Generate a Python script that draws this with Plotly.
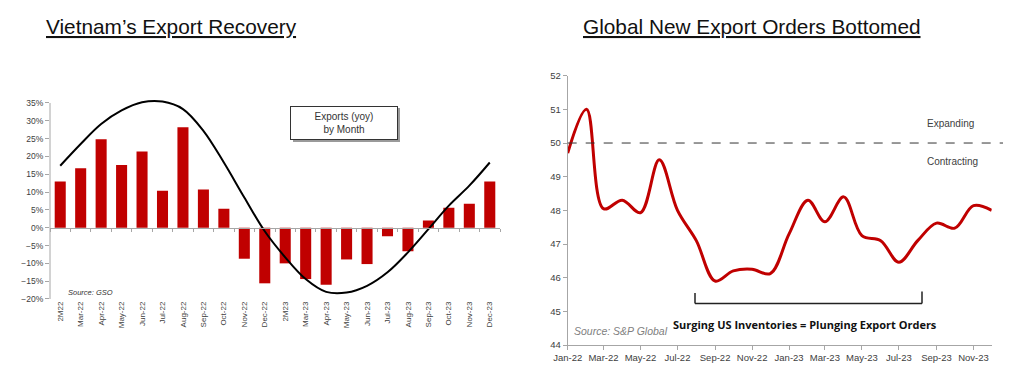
import plotly.graph_objects as go

# ---------------- Data ----------------
months_vn = ["2M22", "Mar-22", "Apr-22", "May-22", "Jun-22", "Jul-22", "Aug-22", "Sep-22",
             "Oct-22", "Nov-22", "Dec-22", "2M23", "Mar-23", "Apr-23", "May-23", "Jun-23",
             "Jul-23", "Aug-23", "Sep-23", "Oct-23", "Nov-23", "Dec-23"]
exports_yoy = [13.0, 16.7, 24.8, 17.6, 21.4, 10.4, 28.2, 10.7, 5.3, -8.7, -15.6, -10.0,
               -14.4, -16.0, -8.9, -10.2, -2.4, -6.6, 2.0, 5.6, 6.7, 13.0]
trend_curve = [17.4, 23.5, 29.1, 32.9, 35.2, 35.4, 33.3, 27.2, 18.3, 8.5, -1.0, -8.3,
               -14.4, -18.0, -18.2, -16.3, -12.5, -6.9, -0.4, 6.2, 11.8, 18.3]

dates_pmi = ["2022-01-01", "2022-02-01", "2022-03-01", "2022-04-01", "2022-05-01", "2022-06-01",
             "2022-07-01", "2022-08-01", "2022-09-01", "2022-10-01", "2022-11-01", "2022-12-01",
             "2023-01-01", "2023-02-01", "2023-03-01", "2023-04-01", "2023-05-01", "2023-06-01",
             "2023-07-01", "2023-08-01", "2023-09-01", "2023-10-01", "2023-11-01", "2023-12-01"]
new_export_orders = [49.7, 51.0, 48.05, 48.3, 47.93, 49.5, 48.0, 47.1, 45.9, 46.2, 46.25, 46.12,
                     47.3, 48.3, 47.66, 48.4, 47.25, 47.1, 46.46, 47.1, 47.62, 47.47, 48.14, 48.0]

W, H = 1024, 388
RED = "#C00000"
GRAY_AX = "#a6a6a6"
TXT = "#404040"

# Left panel geometry (pixels)
L_X0, L_X1 = 50, 500
L_Y35, L_Y1 = 103, 299     # pixel of 35% tick, bottom pixel (-20%)
L_YMIN, L_YTOP_TICK, L_YMAX = -20, 35, 36.6
# Right panel geometry
R_X0, R_X1 = 567.7, 991.7
R_Y0, R_Y1 = 75.7, 345
R_YMIN, R_YMAX = 44, 52

def px_x(p):
    return p / W

def px_y(p):
    return 1 - p / H

ppu = (L_Y1 - L_Y35) / (L_YTOP_TICK - L_YMIN)
l_top_px = L_Y35 - (L_YMAX - L_YTOP_TICK) * ppu
l_ydom = [px_y(L_Y1), px_y(l_top_px)]
zero_pos = l_ydom[0] + (0 - L_YMIN) / (L_YMAX - L_YMIN) * (l_ydom[1] - l_ydom[0])

fig = go.Figure()

fig.add_trace(go.Bar(x=months_vn, y=exports_yoy, marker=dict(color=RED, line=dict(width=0)),
                     xaxis="x", yaxis="y", showlegend=False, hoverinfo="x+y"))
fig.add_trace(go.Scatter(x=months_vn, y=trend_curve, mode="lines",
                         line=dict(color="black", width=2, shape="spline", smoothing=1.0),
                         xaxis="x", yaxis="y", showlegend=False))
# dummy trace to render the zero-line axis with ticks
fig.add_trace(go.Scatter(x=[None], y=[None], xaxis="x3", yaxis="y", showlegend=False))

fig.add_trace(go.Scatter(x=dates_pmi, y=new_export_orders, mode="lines",
                         line=dict(color=RED, width=3, shape="spline", smoothing=1.0),
                         xaxis="x2", yaxis="y2", showlegend=False))

fig.update_layout(
    template="none",
    width=W, height=H,
    margin=dict(l=0, r=0, t=0, b=0, pad=0, autoexpand=False),
    paper_bgcolor="white", plot_bgcolor="white",
    font=dict(family="Liberation Sans, Arial, sans-serif", color=TXT),
    bargap=0.46,
    xaxis=dict(domain=[px_x(L_X0), px_x(L_X1)], anchor="y", type="category", automargin=False,
               tickangle=-90, tickfont=dict(size=8, color=TXT), showline=False,
               ticks="", showgrid=False, zeroline=False, fixedrange=True),
    xaxis3=dict(overlaying="x", anchor="free", position=zero_pos, type="linear", automargin=False,
                range=[-0.5, len(months_vn) - 0.5], tick0=0.5, dtick=1,
                ticks="outside", ticklen=3, tickcolor=GRAY_AX, showticklabels=False,
                showline=True, linecolor=GRAY_AX, linewidth=1, showgrid=False, zeroline=False),
    yaxis=dict(domain=l_ydom, anchor="x", range=[L_YMIN, L_YMAX], tick0=-20, dtick=5, ticksuffix="%",
               automargin=False,
               tickfont=dict(size=8.5, color=TXT), showline=False,
               ticks="outside", ticklen=4, tickcolor=GRAY_AX, showgrid=False, zeroline=False),
    xaxis2=dict(domain=[px_x(R_X0), px_x(R_X1)], anchor="y2", type="date", automargin=False,
                range=[dates_pmi[0], dates_pmi[-1]], tickformat="%b-%y", dtick="M2",
                tick0=dates_pmi[0], ticks="outside", ticklen=4, tickcolor=GRAY_AX,
                showline=True, linecolor=GRAY_AX, showgrid=False, zeroline=False,
                tickfont=dict(size=9.5, color=TXT)),
    yaxis2=dict(domain=[px_y(R_Y1), px_y(R_Y0)], anchor="x2", range=[R_YMIN, R_YMAX], dtick=1,
                automargin=False,
                ticks="outside", ticklen=4, tickcolor=GRAY_AX, showline=True, linecolor=GRAY_AX,
                showgrid=False, zeroline=False, tickfont=dict(size=9.5, color=TXT)),
)

annotations = [
    dict(text="<u>Vietnam’s Export Recovery</u>", x=px_x(171), y=px_y(27), xref="paper", yref="paper",
         showarrow=False, font=dict(size=20.8, color="#111111", family="Liberation Sans, Arial"),
         xanchor="center", yanchor="middle"),
    dict(text="<u>Global New Export Orders Bottomed</u>", x=px_x(752), y=px_y(27), xref="paper",
         yref="paper", showarrow=False, font=dict(size=20.8, color="#111111", family="Liberation Sans, Arial"),
         xanchor="center", yanchor="middle"),
    dict(text="Exports (yoy)<br>by Month", x=px_x(344), y=px_y(122.5), xref="paper", yref="paper",
         showarrow=False, font=dict(size=10, color="#333333"), bordercolor="#333333", borderwidth=1,
         bgcolor="white", width=104, height=30, borderpad=1, xanchor="center", yanchor="middle"),
    dict(text="<i>Source: GSO</i>", x=px_x(66), y=px_y(292), xref="paper", yref="paper",
         showarrow=False, font=dict(size=7.5, color="#333333"), xanchor="left", yanchor="middle"),
    dict(text="Expanding", x=px_x(925), y=px_y(124), xref="paper", yref="paper", showarrow=False,
         font=dict(size=10, color=TXT), xanchor="left", yanchor="middle"),
    dict(text="Contracting", x=px_x(925), y=px_y(161), xref="paper", yref="paper", showarrow=False,
         font=dict(size=10, color=TXT), xanchor="left", yanchor="middle"),
    dict(text="<b>Surging US Inventories = Plunging Export Orders</b>", x=px_x(805), y=px_y(324),
         xref="paper", yref="paper", showarrow=False,
         font=dict(size=11, color="#111111", family="Open Sans, Liberation Sans"),
         xanchor="center", yanchor="middle"),
    dict(text="<i>Source: S&P Global</i>", x=px_x(572), y=px_y(331), xref="paper", yref="paper",
         showarrow=False, font=dict(size=10.5, color="#808080"), xanchor="left", yanchor="middle"),
]
fig.update_layout(annotations=annotations)

shapes = [
    # left y-axis line from -20% to 35%
    dict(type="line", xref="x domain", yref="y", x0=0, x1=0, y0=L_YMIN, y1=L_YTOP_TICK,
         line=dict(color=GRAY_AX, width=1)),
    # legend box shadow
    dict(type="rect", xref="paper", yref="paper", x0=px_x(293), x1=px_x(400), y0=px_y(108), y1=px_y(142),
         fillcolor="#9a9a9a", line=dict(width=0), layer="below"),
    # dashed 50 line
    dict(type="line", xref="x2 domain", yref="y2", x0=0, x1=(1003 - R_X0) / (R_X1 - R_X0), y0=50, y1=50,
         line=dict(color="#333333", width=1, dash="dash")),
    # bracket
    dict(type="line", xref="paper", yref="paper", x0=px_x(695), x1=px_x(922), y0=px_y(303.5), y1=px_y(303.5),
         line=dict(color="#222222", width=1.5)),
    dict(type="line", xref="paper", yref="paper", x0=px_x(695), x1=px_x(695), y0=px_y(293), y1=px_y(303.5),
         line=dict(color="#222222", width=1.5)),
    dict(type="line", xref="paper", yref="paper", x0=px_x(922), x1=px_x(922), y0=px_y(291.5), y1=px_y(303.5),
         line=dict(color="#222222", width=1.5)),
]
fig.update_layout(shapes=shapes)

fig.write_html("out.html", config={"displayModeBar": False},
               post_script="document.body.style.margin='0px';document.body.style.padding='0px';")
